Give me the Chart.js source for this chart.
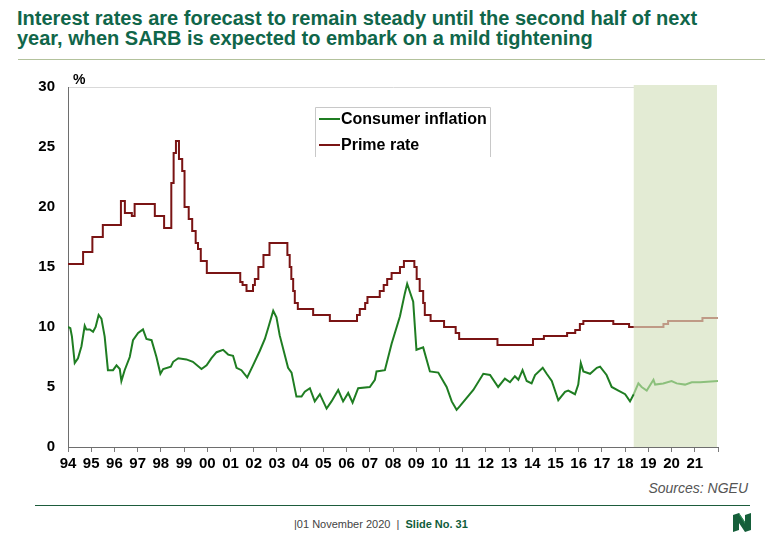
<!DOCTYPE html>
<html>
<head>
<meta charset="utf-8">
<script src="https://cdn.jsdelivr.net/npm/chart.js@4"></script>
<style>
  html, body { margin: 0; padding: 0; background: #fff; }
  body { width: 780px; height: 540px; position: relative; overflow: hidden; font-family: "Liberation Sans", Arial, sans-serif; }
  #title { position: absolute; left: 17px; top: 8px; width: 760px; white-space: nowrap; font-family: "Liberation Sans", Arial, sans-serif; font-weight: bold; font-size: 20px; line-height: 20px; color: #10664a; }
  #rule-top { position: absolute; left: 18px; top: 59px; width: 747px; height: 1px; background: #b3c29c; }
  #chart-wrap { position: absolute; left: 0; top: 60px; width: 780px; height: 420px; }
  #pct { position: absolute; left: 73px; top: 71px; font-weight: bold; font-size: 14px; color: #000; }
  #sources { position: absolute; right: 32px; top: 480px; font-style: italic; font-size: 14px; color: #555; }
  #rule-bottom { position: absolute; left: 35px; top: 505px; width: 715px; height: 1px; background: #1d5c3c; }
  #footer { position: absolute; left: 294px; top: 518px; font-size: 11px; color: #444; }
  #footer b { color: #0f5c3a; }
  #logo { position: absolute; left: 732px; top: 512px; }
</style>
</head>
<body>
<div id="title">Interest rates are forecast to remain steady until the second half of next<br>year, when SARB is expected to embark on a mild tightening</div>
<div id="rule-top"></div>
<div id="chart-wrap"><canvas id="chart" width="780" height="420"></canvas></div>
<div id="pct">%</div>
<div id="sources">Sources: NGEU</div>
<div id="rule-bottom"></div>
<div id="footer">|01 November 2020&nbsp; | &nbsp;<b>Slide No. 31</b></div>
<svg id="logo" width="20" height="21" viewBox="0 0 20 21">
  <path d="M1 3 L7 1 L13 10 L13 3 L19 1 L19 18 L13 20 L7 11 L7 18 L1 20 Z" fill="#155f3a"/>
  <path d="M7 1 L13 10 L13 12 L7 3 Z" fill="#2f8a55"/>
</svg>
<script>
// axis settings
const yMin = 0;
const yMax = 30;
const yStep = 5;
const xStartYear = 1994;
const xEndYear = 2022;
const forecastStart = 2018.37;

// consumer inflation, % y/y (history)
const cpiDates = [1994.0, 1994.1, 1994.17, 1994.29, 1994.43, 1994.58, 1994.72, 1994.79, 1994.94, 1995.08,
  1995.19, 1995.32, 1995.44, 1995.58, 1995.72, 1995.94, 1996.09, 1996.23, 1996.3, 1996.44,
  1996.66, 1996.8, 1997.02, 1997.23, 1997.38, 1997.6, 1997.81, 1997.98, 1998.1, 1998.43,
  1998.53, 1998.75, 1999.1, 1999.38, 1999.75, 1999.97, 2000.18, 2000.4, 2000.68, 2000.9,
  2001.11, 2001.26, 2001.47, 2001.72, 2001.97, 2002.26, 2002.48, 2002.62, 2002.84, 2002.98,
  2003.12, 2003.48, 2003.63, 2003.84, 2004.06, 2004.2, 2004.42, 2004.63, 2004.85, 2005.14,
  2005.35, 2005.64, 2005.85, 2006.07, 2006.26, 2006.5, 2007.0, 2007.22, 2007.29, 2007.65,
  2007.94, 2008.3, 2008.51, 2008.61, 2008.87, 2009.01, 2009.3, 2009.59, 2009.95, 2010.31,
  2010.53, 2010.74, 2010.88, 2011.46, 2011.89, 2012.18, 2012.53, 2012.82, 2013.04, 2013.25,
  2013.4, 2013.58, 2013.76, 2013.97, 2014.12, 2014.45, 2014.62, 2014.84, 2015.12, 2015.41,
  2015.55, 2015.84, 2015.98, 2016.09, 2016.2, 2016.49, 2016.78, 2016.92, 2017.2, 2017.42,
  2017.71, 2018.0, 2018.21, 2018.37];
const cpiValues = [10.0, 9.9, 9.2, 7.0, 7.4, 8.4, 10.1, 9.8, 9.8, 9.6,
  10.0, 11.0, 10.7, 9.2, 6.4, 6.4, 6.8, 6.5, 5.5, 6.4,
  7.5, 8.9, 9.5, 9.8, 9.0, 8.9, 7.5, 6.1, 6.5, 6.7,
  7.1, 7.4, 7.3, 7.1, 6.5, 6.8, 7.4, 7.9, 8.1, 7.7,
  7.6, 6.6, 6.4, 5.8, 6.8, 8.0, 9.0, 9.9, 11.35, 10.8,
  9.3, 6.6, 6.2, 4.2, 4.2, 4.6, 4.9, 3.8, 4.4, 3.2,
  3.8, 4.75, 3.8, 4.5, 3.7, 4.9, 5.0, 5.6, 6.3, 6.4,
  8.6, 10.9, 12.8, 13.6, 12.1, 8.1, 8.3, 6.3, 6.2, 5.0,
  3.8, 3.1, 3.4, 4.75, 6.1, 6.0, 5.0, 5.7, 5.4, 5.9,
  5.6, 6.4, 5.5, 5.3, 6.0, 6.6, 6.1, 5.5, 3.9, 4.6,
  4.7, 4.4, 5.2, 7.0, 6.3, 6.1, 6.6, 6.7, 6.0, 5.0,
  4.7, 4.4, 3.8, 4.4];

// consumer inflation forecast
const cpiFcDates = [2018.37, 2018.57, 2018.71, 2018.93, 2019.22, 2019.29, 2019.64, 2020.0, 2020.22, 2020.58, 2020.87, 2021.23, 2022.0];
const cpiFcValues = [4.4, 5.3, 5.0, 4.7, 5.6, 5.2, 5.3, 5.5, 5.3, 5.2, 5.4, 5.4, 5.5];

// prime rate: date of each change and the new level
const primeDates = [1994.0, 1994.65, 1995.05, 1995.5, 1996.28, 1996.45, 1996.75, 1996.87, 1997.74, 1998.14,
  1998.45, 1998.55, 1998.65, 1998.78, 1998.92, 1999.02, 1999.2, 1999.35, 1999.5, 1999.6,
  1999.72, 1999.98, 2001.42, 2001.52, 2001.69, 2001.97, 2002.05, 2002.2, 2002.42, 2002.68,
  2003.45, 2003.55, 2003.62, 2003.7, 2003.77, 2003.9, 2004.56, 2005.28, 2006.45, 2006.57,
  2006.8, 2006.9, 2007.43, 2007.6, 2007.75, 2007.94, 2008.3, 2008.47, 2008.92, 2009.02,
  2009.15, 2009.3, 2009.37, 2009.62, 2010.2, 2010.7, 2010.85, 2012.5, 2014.03, 2014.5,
  2015.5, 2015.85, 2016.05, 2016.2, 2017.49, 2018.17, 2018.37];
const primeValues = [15.25, 16.25, 17.5, 18.5, 20.5, 19.5, 19.25, 20.25, 19.25, 18.25,
  22.0, 24.5, 25.5, 24.0, 23.0, 20.0, 19.0, 18.0, 17.0, 16.5,
  15.5, 14.5, 13.75, 13.5, 13.0, 13.5, 14.0, 15.0, 16.0, 17.0,
  16.0, 15.0, 14.0, 13.0, 12.0, 11.5, 11.0, 10.5, 11.0, 11.5,
  12.0, 12.5, 13.0, 13.5, 14.0, 14.5, 15.0, 15.5, 15.0, 14.0,
  13.0, 12.0, 11.0, 10.5, 10.0, 9.5, 9.0, 8.5, 9.0, 9.25,
  9.5, 9.75, 10.25, 10.5, 10.25, 10.0, 10.0];

// prime rate forecast
const primeFcDates = [2018.37, 2019.65, 2019.85, 2021.33, 2022.0];
const primeFcValues = [10.0, 10.25, 10.5, 10.75, 10.75];

const seriesLabels = ['Consumer inflation', 'Prime rate'];

const toPoints = (dates, values) => dates.map((d, i) => ({ x: d, y: values[i] }));

Chart.defaults.font.family = '"Liberation Sans", Arial, sans-serif';
Chart.defaults.color = '#000';

// green band behind the forecast period
const forecastBand = {
  id: 'forecastBand',
  beforeDatasetsDraw(chart) {
    const { ctx, chartArea, scales } = chart;
    const x0 = scales.x.getPixelForValue(forecastStart);
    ctx.save();
    ctx.fillStyle = '#e3ebd4';
    ctx.fillRect(x0, chartArea.top - 2, chartArea.right - x0, chartArea.bottom - chartArea.top + 2);
    ctx.strokeStyle = '#ffffff';
    ctx.lineWidth = 1;
    ctx.beginPath();
    ctx.moveTo(chartArea.right - 0.5, chartArea.top - 2);
    ctx.lineTo(chartArea.right - 0.5, chartArea.bottom);
    ctx.stroke();
    ctx.restore();
  }
};

// boxed legend inside the plot
const boxLegend = {
  id: 'boxLegend',
  afterDraw(chart) {
    const { ctx } = chart;
    const left = 315, top = 47, right = 490, bottom = 97;
    ctx.save();
    ctx.fillStyle = '#fff';
    ctx.fillRect(left, top, right - left, bottom - top);
    ctx.strokeStyle = '#c8c8c8';
    ctx.lineWidth = 1;
    ctx.beginPath();
    ctx.moveTo(left + 0.5, bottom);
    ctx.lineTo(left + 0.5, top + 0.5);
    ctx.lineTo(right + 0.5, top + 0.5);
    ctx.lineTo(right + 0.5, bottom);
    ctx.stroke();
    ctx.font = 'bold 16px "Liberation Sans", Arial, sans-serif';
    ctx.textBaseline = 'middle';
    ctx.fillStyle = '#000';
    [0, 2].forEach((dsIndex, row) => {
      const y = top + 12 + row * 26;
      ctx.strokeStyle = chart.data.datasets[dsIndex].borderColor;
      ctx.lineWidth = 2;
      ctx.beginPath();
      ctx.moveTo(319, y);
      ctx.lineTo(340, y);
      ctx.stroke();
      ctx.fillText(seriesLabels[row], 341, y + 1);
    });
    ctx.restore();
  }
};

const ctx = document.getElementById('chart').getContext('2d');
new Chart(ctx, {
  type: 'line',
  data: {
    datasets: [
      { label: seriesLabels[0], data: toPoints(cpiDates, cpiValues), borderColor: '#1f7d22', borderWidth: 2, pointRadius: 0, tension: 0 },
      { label: seriesLabels[0] + ' forecast', data: toPoints(cpiFcDates, cpiFcValues), borderColor: '#8cc07c', borderWidth: 2, pointRadius: 0, tension: 0 },
      { label: seriesLabels[1], data: toPoints(primeDates, primeValues), borderColor: '#7a1414', borderWidth: 2, pointRadius: 0, stepped: 'before' },
      { label: seriesLabels[1] + ' forecast', data: toPoints(primeFcDates, primeFcValues), borderColor: '#bf9a86', borderWidth: 2, pointRadius: 0, stepped: 'before' }
    ]
  },
  options: {
    responsive: false,
    animation: false,
    layout: { padding: { top: 27, right: 62, left: 0, bottom: 0 } },
    plugins: { legend: { display: false }, tooltip: { enabled: false } },
    scales: {
      x: {
        type: 'linear',
        min: xStartYear,
        max: xEndYear,
        afterFit: (s) => { s.height = 33; },
        border: { color: '#6e6e6e', width: 1 },
        grid: { drawOnChartArea: false, drawTicks: true, tickLength: 5, color: '#7a7a7a' },
        ticks: {
          stepSize: 1,
          autoSkip: false,
          maxRotation: 0,
          padding: 3,
          font: { size: 15, weight: 'bold' },
          callback: (v) => (v >= xEndYear ? '' : String(v % 100).padStart(2, '0'))
        }
      },
      y: {
        min: yMin,
        max: yMax,
        afterFit: (s) => { s.width = 68; },
        border: { color: '#6e6e6e', width: 1 },
        grid: {
          drawTicks: false,
          color: (c) => (c.tick && c.tick.value === yMax ? '#d9d9d9' : 'rgba(0,0,0,0)')
        },
        ticks: { stepSize: yStep, padding: 13, font: { size: 15, weight: 'bold' } }
      }
    }
  },
  plugins: [forecastBand, boxLegend]
});
</script>
</body>
</html>
